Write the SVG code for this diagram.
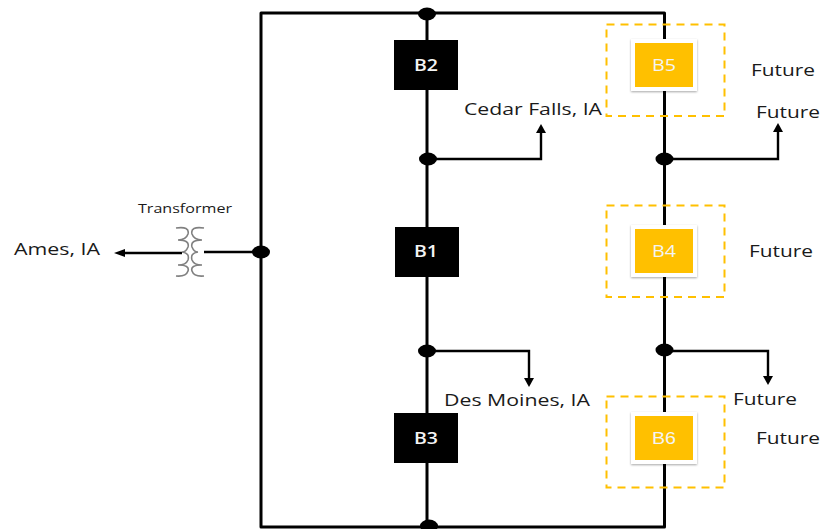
<svg xmlns="http://www.w3.org/2000/svg" width="820" height="529" viewBox="0 0 820 529">
<defs>
<filter id="sh" x="-20%" y="-20%" width="140%" height="140%"><feDropShadow dx="0" dy="1" stdDeviation="1.200" flood-color="#000" flood-opacity="0.350"/></filter>
</defs>
<style>
text{font-family:"Open Sans","DejaVu Sans",sans-serif;font-size:16px;fill:#1a1a1a}
.w{stroke:#000;stroke-width:3;fill:none;stroke-linejoin:round}
.t{stroke:#000;stroke-width:2.400;fill:none}
.d{fill:#000}
.a{fill:#000}
.k{fill:#000}
.y{fill:#ffc000;stroke:#fff;stroke-width:4;filter:url(#sh)}
.s{fill:none;stroke:#ffc000;stroke-width:2;stroke-dasharray:8 6}
.l{fill:#f4f4f4;font-size:16px;font-weight:600}
.c{fill:none;stroke:#808080;stroke-width:1.600}
</style>
<rect width="820" height="529" fill="#fff"/>
<g id="connectors">
<path class="w" d="M261 252V13H664.500V527H261V252"/>
<path class="w" d="M427 13V228M427 228V527"/>
<path class="t" d="M428 159H541V132"/>
<path class="t" d="M665 159H778V131"/>
<path class="t" d="M428 351H529V379"/>
<path class="t" d="M665 351H768V378"/>
<path class="t" d="M261 252H204"/>
<path class="t" d="M182 253H124"/>
<polygon class="a" points="541,124 536,133 546,133"/>
<polygon class="a" points="778,123 773,132 783,132"/>
<polygon class="a" points="529,387 524,378 534,378"/>
<polygon class="a" points="768,385 763,376 773,376"/>
<polygon class="a" points="114,253 125,249 125,257"/>
<ellipse class="d" cx="427" cy="14" rx="9" ry="6.500"/>
<ellipse class="d" cx="428" cy="159" rx="9" ry="6.500"/>
<ellipse class="d" cx="427" cy="351" rx="9" ry="6.500"/>
<ellipse class="d" cx="664.500" cy="159" rx="9" ry="6.500"/>
<ellipse class="d" cx="664.500" cy="350" rx="9" ry="6.500"/>
<ellipse class="d" cx="261" cy="252" rx="9" ry="6.500"/>
<ellipse class="d" cx="429" cy="526" rx="9" ry="6.500"/>
</g>
<g id="transformer">
<path class="c" d="M176 228Q190 226 188 234Q186 240 178 240Q190 240 188 247Q186 252 182 252Q190 253 188 260Q186 265 178 265Q190 265 188 271Q186 277 176 276"/>
<path class="c" d="M204 228Q190 226 192 234Q194 240 202 240Q190 240 192 247Q194 252 198 252Q190 253 192 260Q194 265 202 265Q190 265 192 271Q194 277 204 276"/>
<text x="138" y="213" textLength="94" lengthAdjust="spacingAndGlyphs" style="font-size:13px">Transformer</text>
</g>
<g id="b2"><rect class="k" x="394" y="40" width="64" height="50"/><text class="l" x="414" y="71" textLength="24" lengthAdjust="spacingAndGlyphs">B2</text></g>
<g id="b1"><rect class="k" x="395" y="227" width="64" height="50"/><text class="l" x="414" y="257" textLength="24" lengthAdjust="spacingAndGlyphs">B1</text></g>
<g id="b3"><rect class="k" x="394" y="413" width="64" height="50"/><text class="l" x="414" y="444" textLength="24" lengthAdjust="spacingAndGlyphs">B3</text></g>
<g id="b5"><rect class="s" x="606.500" y="24.500" width="118" height="91.500"/><rect class="y" x="633" y="41" width="62" height="48"/><text class="l" x="652" y="71" textLength="24" lengthAdjust="spacingAndGlyphs" style="font-weight:400">B5</text></g>
<g id="b4"><rect class="s" x="606.500" y="205.500" width="118" height="91.500"/><rect class="y" x="633" y="227" width="62" height="48"/><text class="l" x="652" y="257" textLength="24" lengthAdjust="spacingAndGlyphs" style="font-weight:400">B4</text></g>
<g id="b6"><rect class="s" x="606.500" y="396.500" width="118" height="91"/><rect class="y" x="633" y="414" width="62" height="48"/><text class="l" x="652" y="444" textLength="24" lengthAdjust="spacingAndGlyphs" style="font-family:'Liberation Sans',sans-serif;font-weight:400">B6</text></g>
<g id="labels">
<text x="14" y="255" textLength="86" lengthAdjust="spacingAndGlyphs">Ames, IA</text>
<text x="464" y="115" textLength="138" lengthAdjust="spacingAndGlyphs">Cedar Falls, IA</text>
<text x="444" y="406" textLength="146" lengthAdjust="spacingAndGlyphs">Des Moines, IA</text>
<text x="751" y="76" textLength="64" lengthAdjust="spacingAndGlyphs">Future</text>
<text x="756" y="118" textLength="64" lengthAdjust="spacingAndGlyphs">Future</text>
<text x="749" y="257" textLength="64" lengthAdjust="spacingAndGlyphs">Future</text>
<text x="733" y="405" textLength="64" lengthAdjust="spacingAndGlyphs">Future</text>
<text x="756" y="444" textLength="64" lengthAdjust="spacingAndGlyphs">Future</text>
</g>
</svg>
